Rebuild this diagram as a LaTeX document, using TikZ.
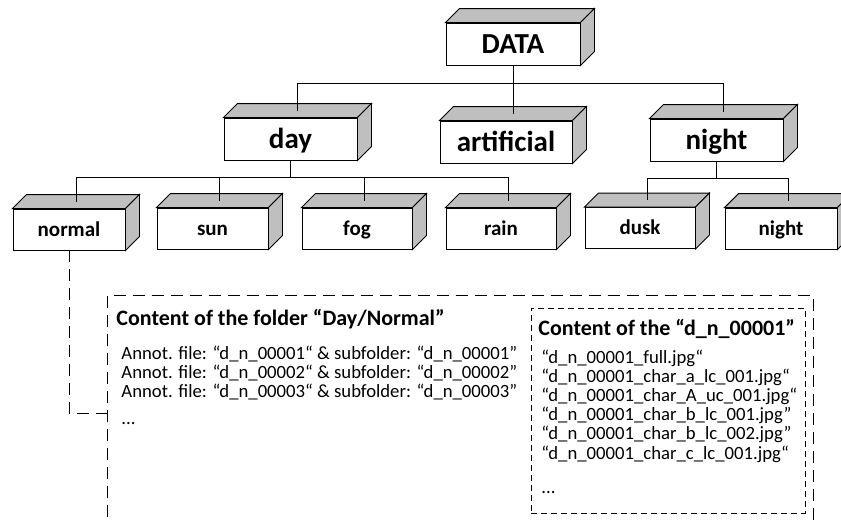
\documentclass[tikz,border=0pt]{standalone}
\usepackage{fontspec}
\setmainfont{Carlito}
\usepackage{tikz}

% grey top and side faces of a folder box, plus the point on top where a line ends
\newcommand{\boxfaces}[1]{%
    \filldraw[fill=black!25] (#1.north west) -- ++(14,-14)
    -- ([shift={(14,-14)}]#1.north east) -- (#1.north east) -- cycle;
    \filldraw[fill=black!25] (#1.north east) -- ([shift={(14,-14)}]#1.north east)
    -- ([shift={(14,-14)}]#1.south east) -- (#1.south east) -- cycle;
    \coordinate (#1-t) at ([shift={(7,-7)}]#1.north);
}

\begin{document}
\begin{tikzpicture}[x=1pt, y=-1pt, line width=0.9pt,
    folder/.style={draw, fill=white, inner sep=0pt, minimum height=42pt, text depth=0pt},
    bigfolder/.style={folder, text height=18.5pt, font=\bfseries\fontsize{29}{32}\selectfont},
    subfolder/.style={folder, minimum width=111pt, minimum height=41pt, text height=13.5pt,
        font=\bfseries\fontsize{21}{24}\selectfont},
    boxtitle/.style={anchor=base west, inner sep=0pt, font=\bfseries\fontsize{22}{26}\selectfont},
    listline/.style={anchor=base west, inner sep=0pt, font=\fontsize{18.7}{22}\selectfont},
    longdash/.style={dash pattern=on 12pt off 7pt},
    shortdash/.style={dash pattern=on 6pt off 4pt}]

    \useasboundingbox (0,0) rectangle (841,523);

    \node[bigfolder, minimum width=134pt] (data) at (513,44) {DATA};
    \node[bigfolder, minimum width=133pt] (day) at (290.5,139) {day};
    \node[bigfolder, minimum width=132pt] (artificial) at (506,142) {artificial};
    \node[bigfolder, minimum width=133pt] (night) at (716.5,140) {night};

    \node[subfolder, minimum width=112pt] (normal) at (69,229.5) {normal};
    \node[subfolder] (sun) at (212.5,228.5) {sun};
    \node[subfolder, minimum width=110pt] (fog) at (357,228.5) {fog};
    \node[subfolder, minimum width=110pt] (rain) at (501,228.5) {rain};
    \node[subfolder, minimum width=110pt] (dusk) at (640,228) {dusk};
    \node[subfolder, minimum width=112pt] (nightsub) at (781,228.5) {night};

    \boxfaces{data}
    \boxfaces{day}
    \boxfaces{artificial}
    \boxfaces{night}
    \boxfaces{normal}
    \boxfaces{sun}
    \boxfaces{fog}
    \boxfaces{rain}
    \boxfaces{dusk}
    \boxfaces{nightsub}

    % tree lines
    \draw (data.south) -- ++(0,18) coordinate (datab);
    \draw (day-t) |- (datab) -| (night-t);
    \draw (datab) -- (artificial-t);

    \draw (day.south) -- ++(0,17) coordinate (dayb);
    \draw (normal-t) |- (dayb) -| (rain-t);
    \draw (sun-t) -- (sun-t |- dayb);
    \draw (fog-t) -- (fog-t |- dayb);

    \draw (night.south) -- ++(0,17) coordinate (nightb);
    \draw (dusk-t) |- (nightb) -| (nightsub-t);

    % content of the folder
    \node[inner sep=0pt, minimum width=705pt, minimum height=240pt] (content) at (460.5,416) {};
    \draw[longdash] (content.south west) -- (content.north west)
    -- (content.north east) -- (content.south east);
    \coordinate (link) at ([yshift=-118pt]content.north west);
    \draw[longdash] (normal.south) |- (link);

    \node[boxtitle] (ctitle) at (116,325) {Content of the folder “Day/Normal”};
    \foreach \k in {1,2,3}
        \node[listline] (annot\k) at (121,340+19*\k)
        {Annot. file: “d\_n\_0000\k“ \& subfolder: “d\_n\_0000\k”};
    \node[listline] (cmore) at (121,424) {...};

    \node[draw, shortdash, inner sep=0pt, minimum width=274pt, minimum height=205pt] (sub) at (668,410.5) {};
    \node[boxtitle] (stitle) at (538,335) {Content of the “d\_n\_00001”};
    \foreach \f [count=\i] in {full.jpg“, char\_a\_lc\_001.jpg“, char\_A\_uc\_001.jpg“,
        char\_b\_lc\_001.jpg”, char\_b\_lc\_002.jpg”, char\_c\_lc\_001.jpg“}
        \node[listline] (file\i) at (541,343.8+19.2*\i) {“d\_n\_00001\_\f};
    \node[listline] (smore) at (541,493) {...};

\end{tikzpicture}
\end{document}
